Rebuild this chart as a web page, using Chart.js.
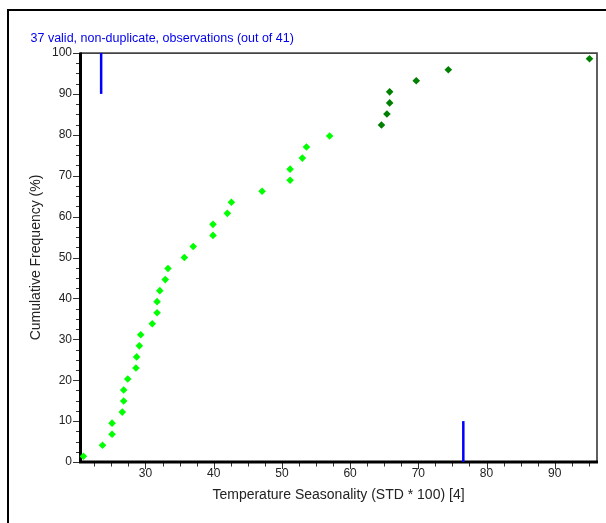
<!DOCTYPE html>
<html>
<head>
<meta charset="utf-8">
<script src="https://cdn.jsdelivr.net/npm/chart.js@4"></script>
<style>
  html, body { margin: 0; padding: 0; background: #fff; }
  #wrap { width: 606px; height: 523px; }
</style>
</head>
<body>
<div id="wrap"><canvas id="chart" width="606" height="523"></canvas></div>
<script>
// Observations
const lightX = [20.9, 23.7, 25.1, 25.1, 26.6, 26.8, 26.8, 27.4, 28.6, 28.7, 29.1, 29.3, 31.0, 31.7, 31.7,
  32.1, 32.9, 33.3, 35.7, 37.0, 39.9, 39.9, 42.0, 42.6, 47.1, 51.2, 51.2, 53.0, 53.6, 57.0];
const lightY = [1.4, 4.1, 6.8, 9.5, 12.2, 14.9, 17.6, 20.3, 23.0, 25.7, 28.4, 31.1, 33.8, 36.5, 39.2,
  41.9, 44.6, 47.3, 50.0, 52.7, 55.4, 58.1, 60.8, 63.5, 66.2, 68.9, 71.6, 74.3, 77.0, 79.7];
const darkX = [64.6, 65.4, 65.8, 65.8, 69.7, 74.4, 95.1];
const darkY = [82.4, 85.1, 87.8, 90.5, 93.2, 95.9, 98.6];

// blue marker lines
const lowMarkX = [23.5, 23.5];
const lowMarkY = [90, 100];
const highMarkX = [76.6, 76.6];
const highMarkY = [0, 10];

const xTicks = [30, 40, 50, 60, 70, 80, 90];
const yTicks = [0, 10, 20, 30, 40, 50, 60, 70, 80, 90, 100];

const titleText = '37 valid, non-duplicate, observations (out of 41)';
const xTitle = 'Temperature Seasonality (STD * 100) [4]';
const yTitle = 'Cumulative Frequency (%)';

const FONT = 'Liberation Sans, Arial, sans-serif';

const toPoints = (xs, ys) => xs.map((x, i) => ({ x: x, y: ys[i] }));

// Frame, axes, minor ticks and top caption
const framePlugin = {
  id: 'frame',
  beforeDraw(chart) {
    const ctx = chart.ctx;
    ctx.save();
    ctx.fillStyle = '#fff';
    ctx.fillRect(0, 0, chart.width, chart.height);
    ctx.fillStyle = '#000';
    ctx.fillRect(7, 9, 2, chart.height - 9);
    ctx.fillRect(7, 9, chart.width - 7, 2);
    ctx.restore();
  },
  beforeDatasetsDraw(chart) {
    const ctx = chart.ctx;
    const a = chart.chartArea;
    const xs = chart.scales.x, ys = chart.scales.y;
    ctx.save();
    // top / right frame
    ctx.strokeStyle = '#444';
    ctx.lineWidth = 1.7;
    ctx.beginPath();
    ctx.moveTo(a.left, a.top + 0.2);
    ctx.lineTo(a.right, a.top + 0.2);
    ctx.lineTo(a.right, a.bottom);
    ctx.stroke();
    // ticks
    ctx.strokeStyle = '#333';
    ctx.lineWidth = 1;
    ctx.beginPath();
    for (let v = 0; v <= 100; v += 2.5) {
      const y = Math.round(ys.getPixelForValue(v)) + 0.5;
      const len = v % 10 === 0 ? 6 : 3;
      ctx.moveTo(a.left - 1 - len, y);
      ctx.lineTo(a.left, y);
    }
    for (let v = 22.5; v <= xs.max; v += 2.5) {
      const x = Math.round(xs.getPixelForValue(v)) + 0.5;
      const len = v % 10 === 0 ? 6 : 3.5;
      ctx.moveTo(x, a.bottom);
      ctx.lineTo(x, a.bottom + 1 + len);
    }
    ctx.stroke();
    // main axes
    ctx.strokeStyle = '#000';
    ctx.lineWidth = 3;
    ctx.beginPath();
    ctx.moveTo(a.left + 0.5, a.top - 0.5);
    ctx.lineTo(a.left + 0.5, a.bottom);
    ctx.lineTo(a.right + 1, a.bottom);
    ctx.stroke();
    ctx.restore();
  },
  afterDraw(chart) {
    const ctx = chart.ctx;
    ctx.save();
    ctx.fillStyle = '#0000ee';
    ctx.font = '12.5px ' + FONT;
    ctx.textBaseline = 'middle';
    ctx.fillText(titleText, 30.5, 38.5);
    ctx.restore();
  }
};

new Chart(document.getElementById('chart'), {
  type: 'scatter',
  data: {
    datasets: [
      {
        data: toPoints(lightX, lightY),
        pointStyle: 'rectRot',
        pointRadius: 3.8,
        pointBackgroundColor: '#00ff00',
        pointBorderWidth: 0
      },
      {
        data: toPoints(darkX, darkY),
        pointStyle: 'rectRot',
        pointRadius: 3.8,
        pointBackgroundColor: '#008000',
        pointBorderWidth: 0
      },
      {
        data: toPoints(lowMarkX, lowMarkY),
        showLine: true,
        pointRadius: 0,
        borderColor: '#0000ff',
        borderWidth: 2.5
      },
      {
        data: toPoints(highMarkX, highMarkY),
        showLine: true,
        pointRadius: 0,
        borderColor: '#0000ff',
        borderWidth: 2.5
      }
    ]
  },
  options: {
    responsive: false,
    animation: false,
    layout: { padding: { top: 53, right: 9, bottom: 0, left: 0 } },
    plugins: {
      legend: { display: false },
      tooltip: { enabled: false }
    },
    scales: {
      x: {
        type: 'linear',
        min: 20.4,
        max: 96.2,
        afterFit: s => { s.height = 61; },
        afterBuildTicks: s => { s.ticks = xTicks.map(v => ({ value: v })); },
        grid: { display: false, drawTicks: false },
        border: { display: false },
        ticks: {
          autoSkip: false,
          maxRotation: 0,
          padding: 4,
          color: '#222',
          font: { family: FONT, size: 12 }
        },
        title: {
          display: true,
          text: xTitle,
          color: '#222',
          font: { family: FONT, size: 14 },
          padding: { top: 0, bottom: 19 }
        }
      },
      y: {
        min: 0,
        max: 100,
        afterFit: s => { s.width = 80; },
        afterBuildTicks: s => { s.ticks = yTicks.map(v => ({ value: v })); },
        grid: { display: false, drawTicks: false },
        border: { display: false },
        ticks: {
          autoSkip: false,
          padding: 8,
          color: '#222',
          font: { family: FONT, size: 12 }
        },
        title: {
          display: true,
          text: yTitle,
          color: '#222',
          font: { family: FONT, size: 14 },
          padding: { top: 28, bottom: 0 }
        }
      }
    }
  },
  plugins: [framePlugin]
});
</script>
</body>
</html>
